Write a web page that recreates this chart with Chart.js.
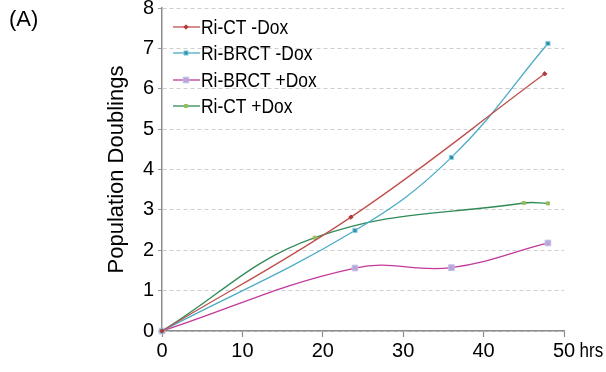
<!DOCTYPE html>
<html>
<head>
<meta charset="utf-8">
<script src="https://cdn.jsdelivr.net/npm/chart.js@4.4.1/dist/chart.umd.min.js"></script>
<style>
html,body{margin:0;padding:0;background:#fff;}
#wrap{width:606px;height:372px;position:relative;}
</style>
</head>
<body>
<div id="wrap"><canvas id="c" width="606" height="372"></canvas></div>
<script>
// ---- data ----
const panelLabel = "(A)";
const yTitle = "Population Doublings";
const xUnit = "hrs";
const seriesNames = ["Ri-CT -Dox", "Ri-BRCT -Dox", "Ri-BRCT +Dox", "Ri-CT +Dox"];

const ctMinusDoxX = [0, 23.5, 47.6];
const ctMinusDoxY = [0, 2.82, 6.37];

const brctMinusDoxX = [0, 24, 36, 48];
const brctMinusDoxY = [0, 2.49, 4.30, 7.12];

const brctPlusDoxX = [0, 24, 36, 48];
const brctPlusDoxY = [0, 1.56, 1.57, 2.18];

const ctPlusDoxX = [0, 19, 45, 48];
const ctPlusDoxY = [0, 2.31, 3.17, 3.16];

const xTicks = [0, 10, 20, 30, 40, 50];
const yTicks = [0, 1, 2, 3, 4, 5, 6, 7, 8];

// ---- styling ----
const FONT = "'Liberation Sans', Arial, sans-serif";
const pts = (xs, ys) => xs.map((x, i) => ({x: x, y: ys[i]}));

const styles = [
  {line: '#c0504d', bg: '#b23a38', border: '#b23a38', style: 'rectRot', r: 2.2},
  {line: '#4bacc6', bg: '#2f8fab', border: '#8fd0e2', style: 'rect', r: 3},
  {line: '#c2399a', bg: '#b7a6d8', border: '#c9bde6', style: 'rect', r: 4},
  {line: '#2e8b57', bg: '#9bbb59', border: '#9bbb59', style: 'rect', r: 2.2}
];
const seriesData = [
  pts(ctMinusDoxX, ctMinusDoxY),
  pts(brctMinusDoxX, brctMinusDoxY),
  pts(brctPlusDoxX, brctPlusDoxY),
  pts(ctPlusDoxX, ctPlusDoxY)
];

const datasets = seriesNames.map((name, i) => ({
  label: name,
  data: seriesData[i],
  borderColor: styles[i].line,
  borderWidth: 1.3,
  backgroundColor: styles[i].bg,
  pointBackgroundColor: styles[i].bg,
  pointBorderColor: styles[i].border,
  pointBorderWidth: 1,
  pointStyle: styles[i].style,
  pointRadius: styles[i].r,
  pointHoverRadius: styles[i].r,
  tension: 0.4,
  fill: false,
  clip: false
}));

// draw text horizontally condensed (the reference uses a narrow face)
function narrowText(ctx, text, x, y, sx) {
  ctx.save();
  ctx.translate(x, y);
  ctx.scale(sx, 1);
  ctx.fillText(text, 0, 0);
  ctx.restore();
}

const extras = {
  id: 'extras',
  afterDraw(chart) {
    const ctx = chart.ctx;
    ctx.save();
    // panel label
    ctx.fillStyle = '#000';
    ctx.font = "22px " + FONT;
    ctx.textBaseline = 'middle';
    ctx.textAlign = 'left';
    ctx.fillText(panelLabel, 9, 20);

    // unit after last x tick
    const xs = chart.scales.x;
    ctx.font = "20px " + FONT;
    const lastVal = xTicks[xTicks.length - 1];
    const w = ctx.measureText(String(lastVal)).width;
    const sp = ctx.measureText(' ').width * 0.8;
    narrowText(ctx, xUnit, xs.getPixelForValue(lastVal) + w / 2 + sp, 351, 0.85);

    // legend inside plot area
    const rowsY = [27, 53, 80, 106];
    ctx.font = "21px " + FONT;
    chart.data.datasets.forEach((ds, i) => {
      const y = rowsY[i];
      ctx.strokeStyle = ds.borderColor;
      ctx.lineWidth = 1.3;
      ctx.beginPath();
      ctx.moveTo(173, y);
      ctx.lineTo(200, y);
      ctx.stroke();
      ctx.fillStyle = ds.pointBackgroundColor;
      ctx.strokeStyle = ds.pointBorderColor;
      ctx.lineWidth = 1;
      Chart.helpers.drawPoint(ctx, {pointStyle: ds.pointStyle, radius: ds.pointRadius, rotation: 0, borderWidth: 1}, 186, y);
      ctx.fillStyle = '#000';
      ctx.textAlign = 'left';
      ctx.textBaseline = 'middle';
      narrowText(ctx, ds.label, 201, y + 1, 0.83);
    });
    ctx.restore();
  }
};

new Chart(document.getElementById('c'), {
  type: 'line',
  data: {datasets: datasets},
  plugins: [extras],
  options: {
    responsive: false,
    animation: false,
    events: [],
    layout: {padding: {top: 8, right: 42, bottom: 0, left: 0}},
    plugins: {
      legend: {display: false},
      tooltip: {enabled: false},
      title: {display: false}
    },
    scales: {
      x: {
        type: 'linear',
        min: 0,
        max: 50,
        afterBuildTicks: s => { s.ticks = xTicks.map(v => ({value: v})); },
        afterFit: s => { s.height = 41; s.paddingLeft = 0; s.paddingRight = 0; },
        ticks: {
          color: '#000',
          font: {family: FONT, size: 20, lineHeight: 1},
          padding: 4,
          maxRotation: 0,
          autoSkip: false,
          callback: v => String(v)
        },
        grid: {drawOnChartArea: false, drawTicks: true, tickLength: 6, tickColor: '#8c8c8c', tickWidth: 1.2},
        border: {display: true, color: '#8c8c8c', width: 1.5}
      },
      y: {
        type: 'linear',
        min: 0,
        max: 8,
        afterBuildTicks: s => { s.ticks = yTicks.map(v => ({value: v})); },
        afterFit: s => { s.width = 162; s.paddingTop = 0; s.paddingBottom = 0; },
        ticks: {
          color: '#000',
          font: {family: FONT, size: 20, lineHeight: 1},
          padding: 4,
          autoSkip: false,
          callback: v => String(v)
        },
        grid: {
          color: '#cfcfcf',
          lineWidth: 1,
          tickLength: 4,
          tickColor: '#9a9a9a',
          tickBorderDash: [],
          drawTicks: true
        },
        border: {display: true, color: '#8c8c8c', width: 1.5, dash: [4, 3]},
        title: {
          display: true,
          text: yTitle,
          color: '#000',
          font: {family: FONT, size: 22, lineHeight: 1.2},
          padding: {top: 104, bottom: 0}
        }
      }
    }
  }
});
</script>
</body>
</html>
